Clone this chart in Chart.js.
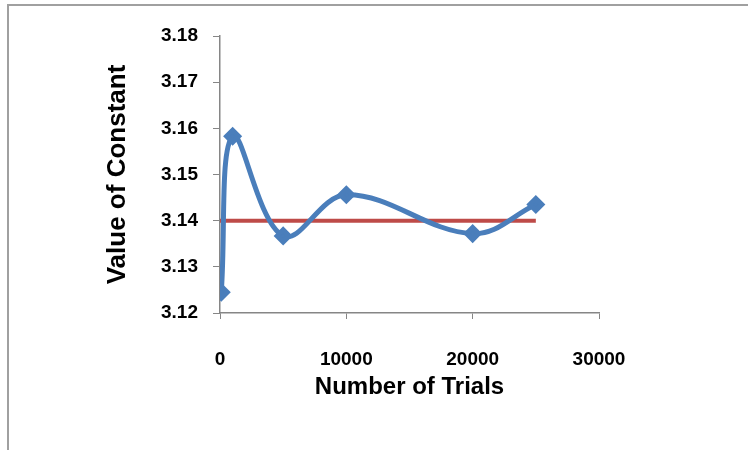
<!DOCTYPE html>
<html lang="en">
<head>
    <meta charset="UTF-8">
    <title>Value of Constant vs Number of Trials</title>
    <script src="https://cdn.jsdelivr.net/npm/chart.js"></script>
    <style>
        body { margin: 0; background: #fff; }
        .wrap { position: relative; width: 748px; height: 450px; }
        .frame {
            position: absolute; left: 7px; top: 4px; right: 0; bottom: 0;
            border-top: 2px solid #a0a0a0; border-left: 2px solid #a0a0a0;
            pointer-events: none;
        }
    </style>
</head>
<body>
    <div class="wrap">
        <canvas id="trialsChart"></canvas>
        <div class="frame"></div>
    </div>

    <script>
        // values
        const trials = [100, 1000, 5000, 10000, 20000, 25000];
        const constantValues = [3.1245, 3.1583, 3.1367, 3.1456, 3.1372, 3.1435];
        const referenceX = [0, 25000];
        const referenceY = [3.14, 3.14];
        const xTicks = [0, 10000, 20000, 30000];
        const yTicks = [3.12, 3.13, 3.14, 3.15, 3.16, 3.17, 3.18];

        const axisGray = '#868686';
        const fontFamily = '"Liberation Sans", Arial, sans-serif';

        const ctx = document.getElementById('trialsChart').getContext('2d');
        const trialsChart = new Chart(ctx, {
            type: 'scatter',
            data: {
                datasets: [{
                    label: 'Value of Constant',
                    data: trials.map((t, i) => ({ x: t, y: constantValues[i] })),
                    showLine: true,
                    tension: 0.38,
                    borderColor: '#4A7EBB',
                    backgroundColor: '#4A7EBB',
                    borderWidth: 5,
                    pointStyle: 'rectRot',
                    pointRadius: 6,
                    pointHoverRadius: 6,
                    order: 1
                }, {
                    label: 'Pi',
                    data: referenceX.map((t, i) => ({ x: t, y: referenceY[i] })),
                    showLine: true,
                    borderColor: '#BE4B48',
                    borderWidth: 4,
                    pointRadius: 0,
                    order: 2
                }]
            },
            options: {
                responsive: true,
                maintainAspectRatio: false,
                animation: false,
                layout: {
                    padding: { top: 36, right: 149, bottom: 0, left: 0 }
                },
                plugins: {
                    legend: { display: false },
                    tooltip: { enabled: false }
                },
                scales: {
                    x: {
                        type: 'linear',
                        min: 0,
                        max: 30000,
                        afterFit: function(scale) { scale.height = 137; },
                        afterBuildTicks: function(scale) {
                            scale.ticks = xTicks.map(v => ({ value: v }));
                        },
                        ticks: {
                            color: '#000',
                            font: { family: fontFamily, size: 19, weight: 'bold' },
                            padding: 29,
                            maxRotation: 0,
                            callback: v => String(v)
                        },
                        grid: {
                            drawOnChartArea: false,
                            color: axisGray,
                            tickLength: 6
                        },
                        border: { color: axisGray, width: 1.5 },
                        title: {
                            display: true,
                            text: 'Number of Trials',
                            color: '#000',
                            font: { family: fontFamily, size: 24, weight: 'bold' },
                            padding: { top: 0, bottom: 48 }
                        }
                    },
                    y: {
                        type: 'linear',
                        min: 3.12,
                        max: 3.18,
                        afterFit: function(scale) { scale.width = 220; },
                        afterBuildTicks: function(scale) {
                            scale.ticks = yTicks.map(v => ({ value: v }));
                        },
                        ticks: {
                            color: '#000',
                            font: { family: fontFamily, size: 19, weight: 'bold' },
                            padding: 15,
                            callback: v => Number(v).toFixed(2)
                        },
                        grid: {
                            drawOnChartArea: false,
                            color: axisGray,
                            tickLength: 7
                        },
                        border: { color: axisGray, width: 1.5 },
                        title: {
                            display: true,
                            text: 'Value of Constant',
                            color: '#000',
                            font: { family: fontFamily, size: 26, weight: 'bold' },
                            padding: { top: 102, bottom: 0 }
                        }
                    }
                }
            }
        });
    </script>
</body>
</html>
